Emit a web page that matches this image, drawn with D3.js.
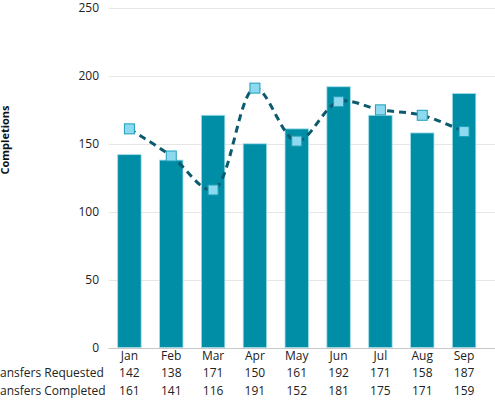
<!DOCTYPE html>
<html>
<head>
<meta charset="utf-8">
<script src="https://cdn.jsdelivr.net/npm/d3@7"></script>
<style>
  html, body { margin: 0; padding: 0; background: #fff; }
  svg { display: block; font-family: "Open Sans", sans-serif; }
</style>
</head>
<body>
<svg id="chart" width="495" height="400"></svg>
<script>
const months = ["Jan", "Feb", "Mar", "Apr", "May", "Jun", "Jul", "Aug", "Sep"];
const requested = [142, 138, 171, 150, 161, 192, 171, 158, 187];
const completed = [161, 141, 116, 191, 152, 181, 175, 171, 159];
const yTicks = [0, 50, 100, 150, 200, 250];
const rowLabels = ["Transfers Requested", "Transfers Completed"];
const yTitle = "Completions";

const svg = d3.select("#chart");
const plotLeft = 108.5, plotRight = 495, bandRight = 485;
const x = d3.scaleBand().domain(months).range([plotLeft, bandRight]).paddingInner(0.44).paddingOuter(0.22);
const y = d3.scaleLinear().domain([0, 250]).range([347.5, 8]);

// gridlines
svg.append("g").selectAll("line").data(yTicks).join("line")
  .attr("x1", plotLeft).attr("x2", plotRight)
  .attr("y1", d => Math.round(y(d)) + 0.5).attr("y2", d => Math.round(y(d)) + 0.5)
  .attr("stroke", d => d === 0 ? "#c8c8c8" : "#e6e6e6").attr("stroke-width", 1);

// y tick labels
svg.append("g").selectAll("text").data(yTicks).join("text")
  .attr("x", 99).attr("y", d => y(d)).attr("dy", "0.35em")
  .attr("text-anchor", "end").attr("font-size", 12).attr("fill", "#222")
  .text(d => d);

// y title
svg.append("text")
  .attr("transform", "translate(9,140) rotate(-90)")
  .attr("text-anchor", "middle").attr("font-size", 11).attr("font-weight", "bold").attr("fill", "#111")
  .text(yTitle);

// bars
svg.append("g").selectAll("rect").data(months).join("rect")
  .attr("x", d => x(d)).attr("width", x.bandwidth())
  .attr("y", (d, i) => y(requested[i])).attr("height", (d, i) => y(0) - y(requested[i]))
  .attr("fill", "#008da6").attr("stroke", "#9fdcea").attr("stroke-width", 0.8);

// line
const pts = months.map((m, i) => [x(m) + x.bandwidth() / 2, y(completed[i])]);
svg.append("path")
  .attr("d", d3.line().curve(d3.curveCatmullRom.alpha(0.5))(pts))
  .attr("fill", "none").attr("stroke", "#0b5a6d").attr("stroke-width", 3)
  .attr("stroke-dasharray", "7,5");

// markers
const ms = 10;
svg.append("g").selectAll("rect").data(pts).join("rect")
  .attr("x", d => d[0] - ms / 2).attr("y", d => d[1] - ms / 2)
  .attr("width", ms).attr("height", ms)
  .attr("fill", "#8cd9f0").attr("stroke", "#1d9fb8").attr("stroke-width", 1);

// table: month labels
svg.append("g").selectAll("text").data(months).join("text")
  .attr("x", d => x(d) + x.bandwidth() / 2).attr("y", 360)
  .attr("text-anchor", "middle").attr("font-size", 12).attr("fill", "#222")
  .text(d => d);

const rows = [requested, completed];
const rowY = [377, 395];
// measure "Tr" so the labels are clipped like the reference
const probe = svg.append("text").attr("font-size", 12).text("Tr");
const trW = probe.node().getComputedTextLength();
probe.remove();

rows.forEach((vals, r) => {
  svg.append("text").attr("x", -trW).attr("y", rowY[r])
    .attr("font-size", 12).attr("fill", "#222").text(rowLabels[r]);
  svg.append("g").selectAll("text").data(months).join("text")
    .attr("x", d => x(d) + x.bandwidth() / 2).attr("y", rowY[r])
    .attr("text-anchor", "middle").attr("font-size", 12).attr("fill", "#222")
    .text((d, i) => vals[i]);
});
</script>
</body>
</html>
